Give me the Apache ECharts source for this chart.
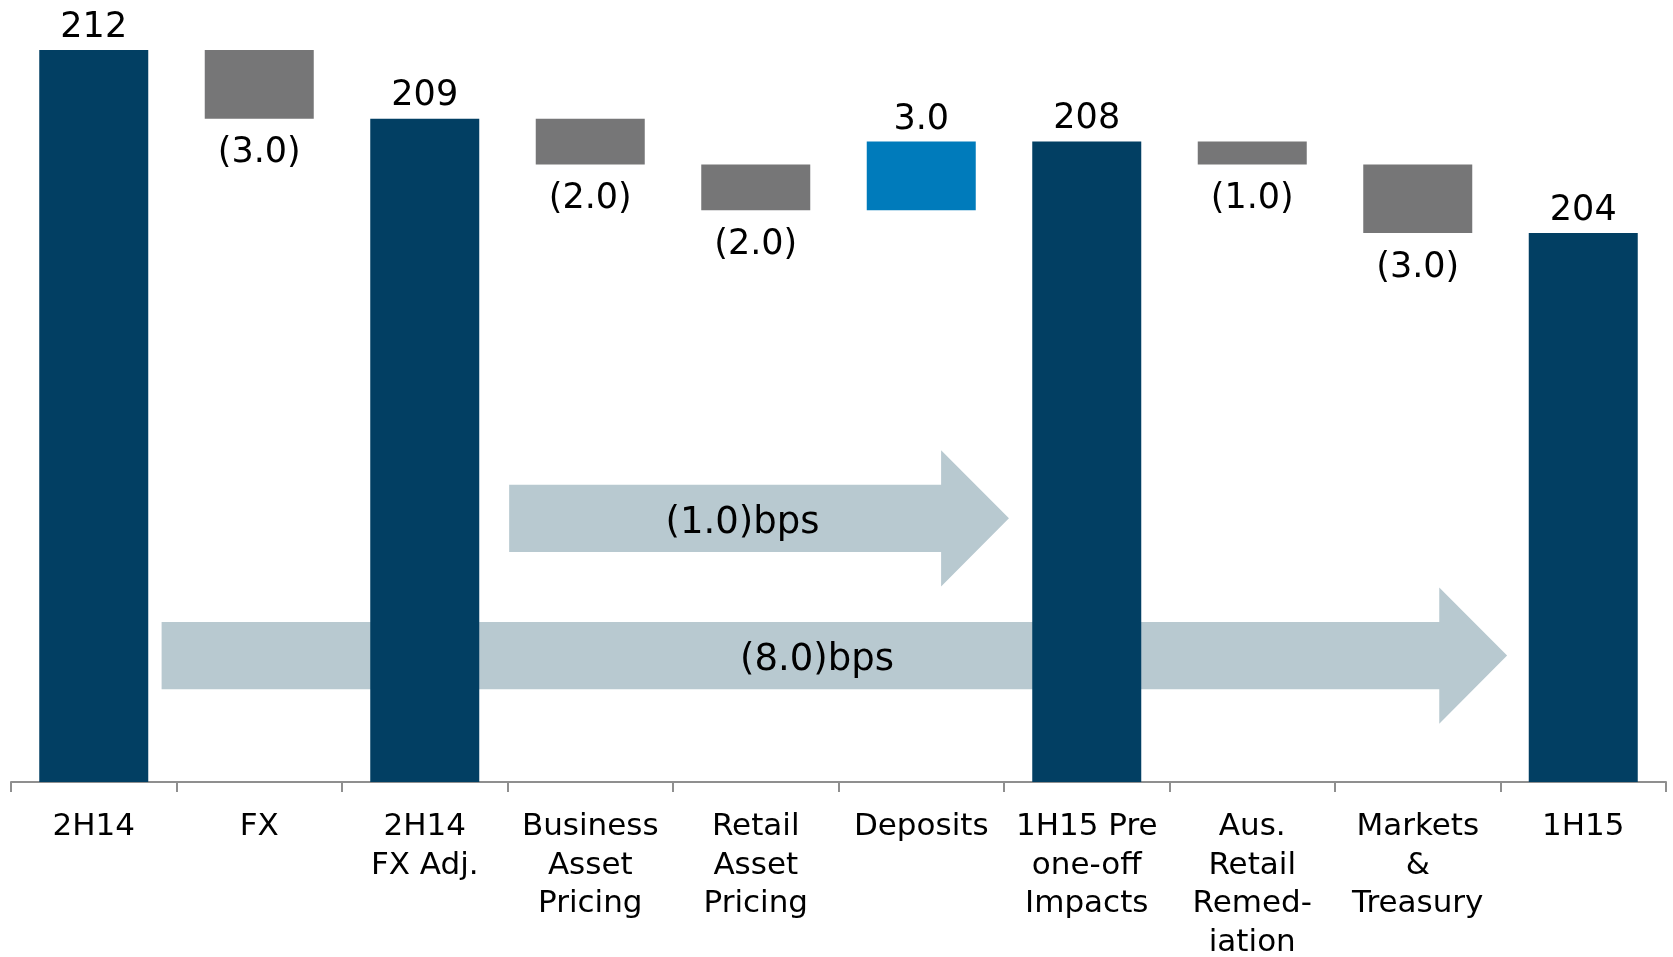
<!DOCTYPE html>
<html>
<head>
<meta charset="utf-8">
<script src="https://cdn.jsdelivr.net/npm/echarts@6/dist/echarts.min.js"></script>
<style>
  html, body { margin: 0; padding: 0; background: #fff; }
  #chart { width: 1673px; height: 957px; }
</style>
</head>
<body>
<div id="chart"></div>
<script>
// NIM walk 2H14 -> 1H15 (bps), waterfall
const categories = ['2H14', 'FX', '2H14\nFX Adj.', 'Business\nAsset\nPricing', 'Retail\nAsset\nPricing',
  'Deposits', '1H15 Pre\none-off\nImpacts', 'Aus.\nRetail\nRemed-\niation', 'Markets\n&\nTreasury', '1H15'];
const values = [212, -3.0, 209, -2.0, -2.0, 3.0, 208, -1.0, -3.0, 204];
const isTotal = [true, false, true, false, false, false, true, false, false, true];

// arrow annotations, in data units (x = category index, y = bps)
const arrowLabels = ['(1.0)bps', '(8.0)bps'];
const arrowFrom = [2.51, 0.41];
const arrowHeadAt = [5.12, 8.13];
const arrowTip = [5.53, 8.54];
const arrowBody = [[190.05, 193.0], [184.05, 187.0]];
const arrowHead = [[188.55, 194.5], [182.55, 188.5]];
const arrowTextX = [3.92, 4.37];

const DARK = '#023f63', GREY = '#767677', BLUE = '#007bbb', ARROW = '#b8c9d0';
const FONT = 'DejaVu Sans';

// build waterfall pieces
let running = 0;
const baseData = [], deltaData = [], totalData = [];
values.forEach((v, i) => {
  if (isTotal[i]) {
    running = v;
    totalData.push(v);
    baseData.push('-');
    deltaData.push('-');
  } else {
    const next = running + v;
    baseData.push(Math.min(running, next));
    deltaData.push({
      value: Math.abs(v),
      itemStyle: { color: v < 0 ? GREY : BLUE },
      label: {
        position: v < 0 ? 'bottom' : 'top',
        distance: v < 0 ? 17 : 4,
        formatter: v < 0 ? '(' + Math.abs(v).toFixed(1) + ')' : v.toFixed(1)
      }
    });
    totalData.push('-');
    running = next;
  }
});

const chart = echarts.init(document.getElementById('chart'), null, { renderer: 'canvas' });
const BAR_W = 109;

chart.setOption({
  animation: false,
  grid: { left: 11, right: 7, top: 50, bottom: 175, containLabel: false, outerBoundsMode: 'none' },
  xAxis: {
    type: 'category',
    data: categories,
    axisLine: { lineStyle: { color: '#8f8f8f', width: 2 } },
    axisTick: { show: true, length: 10, lineStyle: { color: '#8f8f8f', width: 2 } },
    axisLabel: {
      interval: 0, margin: 26, color: '#000',
      fontFamily: FONT, fontSize: 31, lineHeight: 38.5
    }
  },
  yAxis: {
    type: 'value', min: 180, max: 212, show: false,
    splitLine: { show: false }
  },
  series: [
    {
      type: 'custom',
      z: 1,
      silent: true,
      data: arrowLabels.map((_, i) => i),
      renderItem(params, api) {
        const i = params.dataIndex;
        const band = api.size([1, 0])[0];
        const x0 = api.coord([0, 200])[0];
        const px = (v) => x0 + v * band;
        const py = (v) => api.coord([0, v])[1];
        const xa = px(arrowFrom[i]), xh = px(arrowHeadAt[i]), xt = px(arrowTip[i]);
        const bt = py(arrowBody[i][1]), bb = py(arrowBody[i][0]);
        const ht = py(arrowHead[i][1]), hb = py(arrowHead[i][0]);
        const mid = (bt + bb) / 2;
        return {
          type: 'group',
          children: [
            {
              type: 'polygon',
              shape: { points: [[xa, bt], [xh, bt], [xh, ht], [xt, mid], [xh, hb], [xh, bb], [xa, bb]] },
              style: { fill: ARROW }
            },
            {
              type: 'text',
              style: {
                text: arrowLabels[i], x: px(arrowTextX[i]), y: mid + 5,
                align: 'center', verticalAlign: 'middle',
                fill: '#000', fontFamily: FONT, fontSize: 37
              }
            }
          ]
        };
      }
    },
    {
      name: 'base', type: 'bar', stack: 'walk', barWidth: BAR_W, z: 2,
      itemStyle: { color: 'transparent' }, silent: true,
      data: baseData
    },
    {
      name: 'delta', type: 'bar', stack: 'walk', barWidth: BAR_W, z: 2,
      label: { show: true, color: '#000', fontFamily: FONT, fontSize: 35 },
      data: deltaData
    },
    {
      name: 'total', type: 'bar', barWidth: BAR_W, barGap: '-100%', z: 3,
      itemStyle: { color: DARK },
      label: { show: true, position: 'top', distance: 5, color: '#000', fontFamily: FONT, fontSize: 35 },
      data: totalData
    }
  ]
});
</script>
</body>
</html>
